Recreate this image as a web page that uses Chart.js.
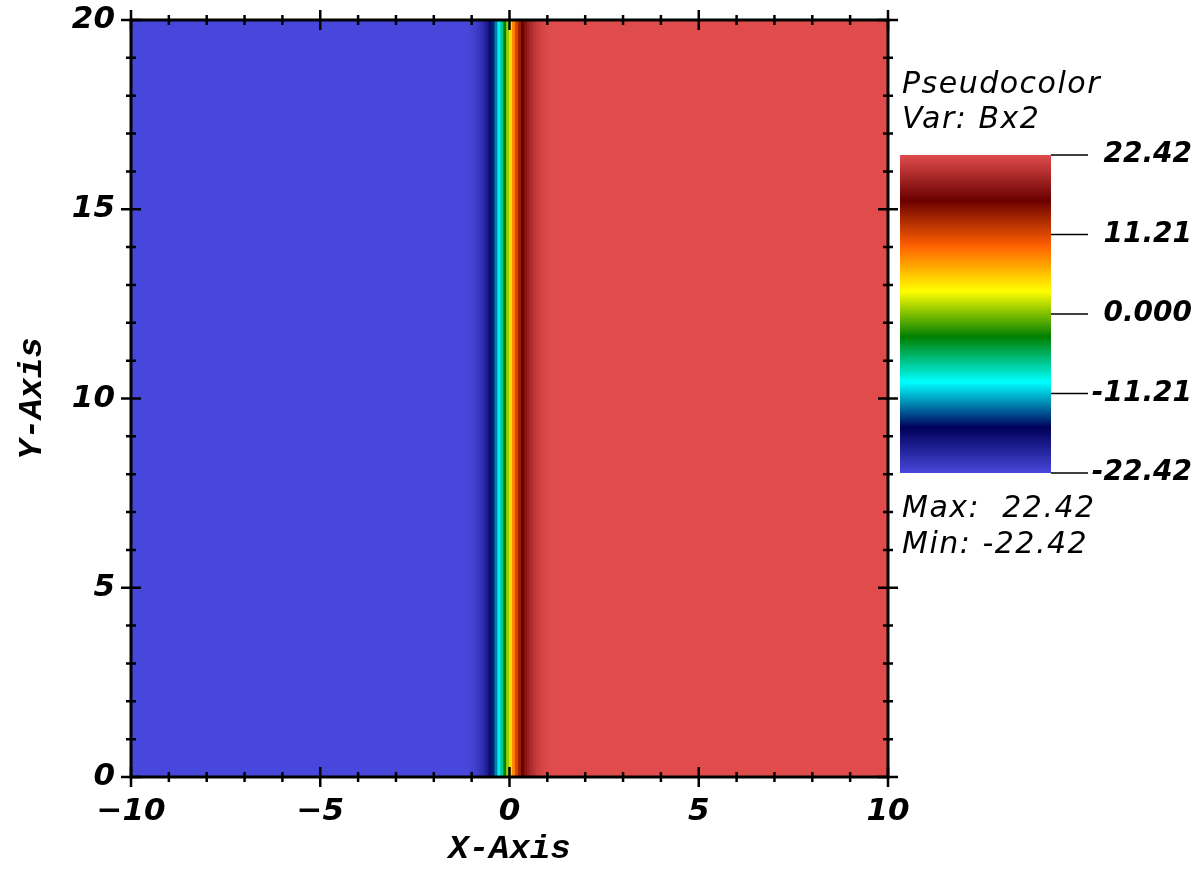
<!DOCTYPE html>
<html>
<head>
<meta charset="utf-8">
<script src="https://cdn.jsdelivr.net/npm/chart.js@4"></script>
<style>
  html, body { margin: 0; padding: 0; background: #fff; }
</style>
</head>
<body>
<canvas id="myChart" width="1204" height="872"></canvas>
<script>
// cell edges along x (a row of zones, the field only varies in x)
const cellEdges = [-10, -1.094, -1.016, -0.938, -0.859, -0.781, -0.703, -0.625, -0.547,
   -0.469, -0.391, -0.313, -0.234, -0.156, -0.078, 0, 0.078, 0.156, 0.234, 0.313,
   0.391, 0.469, 0.547, 0.625, 0.703, 0.781, 0.859, 0.938, 1.016, 1.094, 10];
// Bx2 value in each cell
const bx2 = [-22.42, -22.2, -22.0, -21.7, -21.2, -20.6, -19.8, -18.6, -17.1, -15.2,
   -12.9, -10.0, -6.8, -3.3, 0.8, 4.7, 8.3, 11.4, 14.0, 16.0, 17.6, 18.8, 19.7,
   20.5, 21.1, 21.6, 21.9, 22.1, 22.3, 22.42];
const rowLabel = ["Bx2"];
const xTicks = [-10, -5, 0, 5, 10];
const yTicks = [0, 5, 10, 15, 20];
const barLabels = ["22.42", "11.21", "0.000", "-11.21", "-22.42"];
const varMin = -22.42;
const varMax = 22.42;

// hot_desaturated colour table
const cmap = [[71, 71, 219], [0, 0, 91], [0, 255, 255], [0, 127, 0],
   [255, 255, 0], [255, 96, 0], [107, 0, 0], [224, 76, 76]];

function colorFor(v) {
   let t = (v - varMin) / (varMax - varMin);
   t = Math.max(0, Math.min(1, t));
   const p = t * (cmap.length - 1);
   const i = Math.min(cmap.length - 2, Math.floor(p));
   const f = p - i;
   const c = cmap[i].map((a, k) => Math.round(a + (cmap[i + 1][k] - a) * f));
   return "rgb(" + c.join(",") + ")";
}

const cells = bx2.map((v, i) => ({ x: [cellEdges[i], cellEdges[i + 1]], y: rowLabel[0] }));

const tickFont = { family: "DejaVu Sans", size: 31, weight: "bold", style: "italic" };
const titleFont = { family: "Liberation Mono", size: 34, weight: "bold", style: "italic" };

// box round the plot with major and minor ticks on all four sides
const frame = {
   id: "frame",
   afterDatasetsDraw(chart) {
      const { ctx, chartArea: a } = chart;
      const x = chart.scales.x;
      const y = chart.scales.yAxis;
      ctx.save();
      ctx.strokeStyle = "#000";
      ctx.lineWidth = 3;
      ctx.strokeRect(a.left, a.top, a.right - a.left, a.bottom - a.top);
      ctx.lineWidth = 2.5;
      ctx.beginPath();
      for (let v = x.min; v <= x.max; v++) {
         const px = x.getPixelForValue(v);
         const h = v % 5 === 0 ? 10 : 5;
         ctx.moveTo(px, a.bottom - h); ctx.lineTo(px, a.bottom + h);
         ctx.moveTo(px, a.top - h); ctx.lineTo(px, a.top + h);
      }
      for (let v = y.min; v <= y.max; v++) {
         const py = y.getPixelForValue(v);
         const h = v % 5 === 0 ? 10 : 5;
         ctx.moveTo(a.left - h, py); ctx.lineTo(a.left + h, py);
         ctx.moveTo(a.right - h, py); ctx.lineTo(a.right + h, py);
      }
      ctx.stroke();
      ctx.restore();
   },
};

// VisIt style legend with the colour bar
const colorLegend = {
   id: "colorLegend",
   afterDraw(chart) {
      const ctx = chart.ctx;
      const left = 900, right = 1051, top = 155, bottom = 473;
      ctx.save();
      const g = ctx.createLinearGradient(0, bottom, 0, top);
      cmap.forEach((c, k) => g.addColorStop(k / (cmap.length - 1), "rgb(" + c.join(",") + ")"));
      ctx.fillStyle = g;
      ctx.fillRect(left, top, right - left, bottom - top);

      ctx.fillStyle = "#000";
      ctx.strokeStyle = "#000";
      ctx.lineWidth = 1.5;
      ctx.textBaseline = "alphabetic";
      ctx.letterSpacing = "1.5px";
      ctx.font = "italic 30px 'DejaVu Sans'";
      ctx.textAlign = "left";
      ctx.fillText("Pseudocolor", 902, 93);
      ctx.fillText("Var: Bx2", 902, 128);
      ctx.fillText("Max:  " + varMax.toFixed(2), 902, 517);
      ctx.fillText("Min: " + varMin.toFixed(2), 902, 553);

      ctx.letterSpacing = "0px";
      ctx.font = "italic bold 28px 'DejaVu Sans'";
      ctx.textAlign = "right";
      ctx.textBaseline = "middle";
      barLabels.forEach((s, k) => {
         const py = top + (bottom - top) * k / (barLabels.length - 1);
         ctx.beginPath();
         ctx.moveTo(right, py);
         ctx.lineTo(1088, py);
         ctx.stroke();
         ctx.fillText(s, 1192, py);
      });
      ctx.restore();
   },
};

const ctx = document.getElementById("myChart").getContext("2d");
const myChart = new Chart(ctx, {
   type: "bar",
   data: {
      labels: rowLabel,
      datasets: [
         {
            label: "Bx2",
            data: cells,
            backgroundColor: (c) => colorFor(bx2[c.dataIndex]),
            borderWidth: 0,
            barPercentage: 1,
            categoryPercentage: 1,
         },
      ],
   },
   options: {
      indexAxis: "y",
      responsive: false,
      animation: false,
      devicePixelRatio: 1,
      layout: { padding: { top: 20, right: 316, left: 0, bottom: 0 } },
      plugins: { legend: { display: false }, tooltip: { enabled: false } },
      scales: {
         x: {
            type: "linear",
            position: "bottom",
            min: -10,
            max: 10,
            offset: false,
            grid: { display: false, drawTicks: true, tickLength: 16 },
            border: { display: false },
            afterBuildTicks: (s) => { s.ticks = xTicks.map((v) => ({ value: v })); },
            ticks: {
               color: "#000",
               font: tickFont,
               padding: 0,
               maxRotation: 0,
               autoSkip: false,
               callback: (v) => String(v).replace("-", "\u2212"),
            },
            title: { display: true, text: "X-Axis", color: "#000", font: titleFont, padding: { top: 0, bottom: 2 } },
            afterFit: (s) => { s.height = 95; },
         },
         y: { type: "category", display: false },
         yAxis: {
            type: "linear",
            position: "left",
            axis: "y",
            min: 0,
            max: 20,
            offset: false,
            grid: { display: false, drawTicks: true, tickLength: 16, offset: false },
            border: { display: false },
            afterBuildTicks: (s) => { s.ticks = yTicks.map((v) => ({ value: v })); },
            ticks: { color: "#000", font: tickFont, padding: 0 },
            title: { display: true, text: "Y-Axis", color: "#000", font: titleFont, padding: { top: 12, bottom: 0 } },
            afterFit: (s) => { s.width = 131; },
         },
      },
   },
   plugins: [frame, colorLegend],
});
</script>
</body>
</html>
